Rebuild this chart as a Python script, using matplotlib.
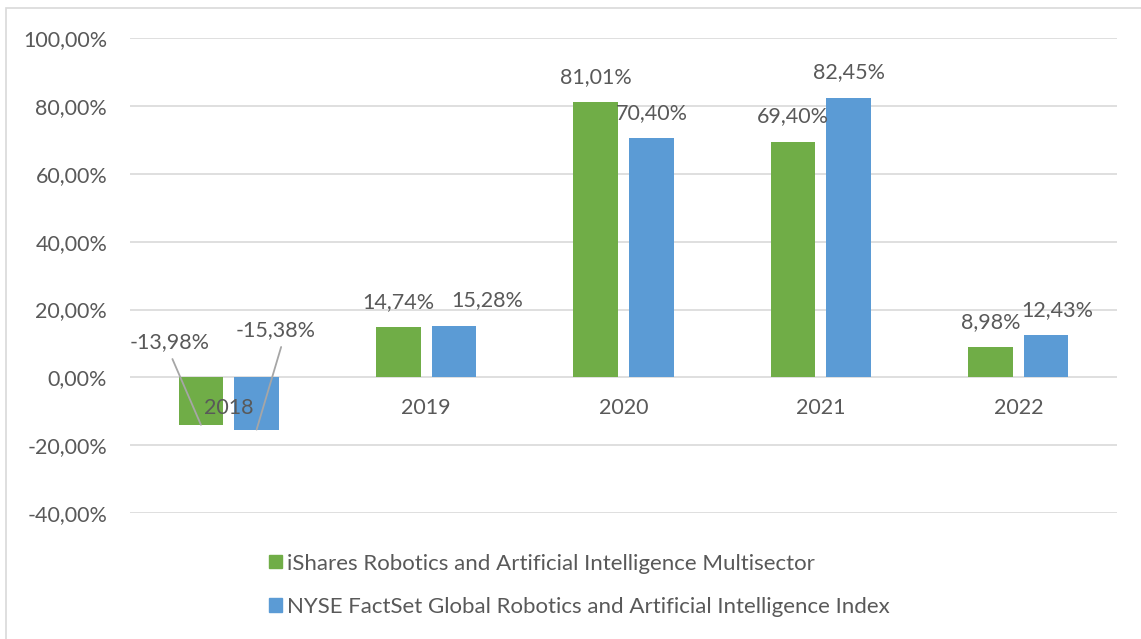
import numpy as np
import matplotlib.pyplot as plt
from matplotlib.patches import Rectangle, Patch

plt.rcParams['font.family'] = ['Lato', 'DejaVu Sans']

years = ['2018', '2019', '2020', '2021', '2022']
ishares = [-13.98, 14.74, 81.01, 69.40, 8.98]
nyse = [-15.38, 15.28, 70.40, 82.45, 12.43]
series_names = ['iShares Robotics and Artificial Intelligence Multisector',
                'NYSE FactSet Global Robotics and Artificial Intelligence Index']
yticks = [-40, -20, 0, 20, 40, 60, 80, 100]

green = '#70AD47'
blue = '#5B9BD5'
txt = '#595959'
grid = '#D9D9D9'
fs = 15.5


def pct(v):
    return f'{v:.2f}'.replace('.', ',') + '%'


fig = plt.figure(figsize=(11.41, 6.39), dpi=100)
fig.patches.append(Rectangle((0.005, -0.01), 1.0, 0.997, transform=fig.transFigure,
                             fill=False, edgecolor=grid, linewidth=1.2))
ax = fig.add_axes([0.114, 0.197, 0.865, 0.7435])

x = np.arange(len(years))
w = 0.226
off = 0.141
ax.bar(x - off, ishares, w, color=green, zorder=3)
ax.bar(x + off, nyse, w, color=blue, zorder=3)

ax.set_xlim(-0.5, len(years) - 0.5)
ax.set_ylim(-40, 100)
ax.set_yticks(yticks)
ax.set_yticklabels([pct(v) for v in yticks])
ax.tick_params(axis='y', length=0, pad=16.5, labelsize=fs, labelcolor=txt)
ax.set_xticks([])
for s in ax.spines.values():
    s.set_visible(False)
for v in yticks:
    ax.axhline(v, color=grid, linewidth=1.2, zorder=1)

# category labels sit just under the zero line
for i, yr in enumerate(years):
    ax.annotate(yr, (i, 0), xytext=(0, -22), textcoords='offset points',
                ha='center', va='center', fontsize=fs, color=txt, zorder=4)

# data labels (a couple nudged sideways like Excel does to avoid overlap)
nudge = {(1, 1): 24, (4, 1): 8}
for i in range(1, len(years)):
    for k, (vals, d) in enumerate(((ishares, -off), (nyse, off))):
        ax.annotate(pct(vals[i]), (i + d, vals[i]),
                    xytext=(nudge.get((i, k), 0), 11),
                    textcoords='offset points', ha='center', va='bottom',
                    fontsize=fs, color=txt, zorder=4)

# 2018 labels pulled up with leader lines
ax.annotate(pct(ishares[0]), (0 - off, ishares[0]), xytext=(-0.30, 10.3),
            textcoords='data', ha='center', va='center', fontsize=fs,
            color=txt, zorder=4,
            arrowprops=dict(arrowstyle='-', color='#A6A6A6', lw=1.3,
                            relpos=(0.5, 0), shrinkA=3, shrinkB=0))
ax.annotate(pct(nyse[0]), (0 + off, nyse[0]), xytext=(0.235, 13.9),
            textcoords='data', ha='center', va='center', fontsize=fs,
            color=txt, zorder=4,
            arrowprops=dict(arrowstyle='-', color='#A6A6A6', lw=1.3,
                            relpos=(0.6, 0), shrinkA=3, shrinkB=0))

handles = [Patch(color=green), Patch(color=blue)]
fig.legend(handles, series_names, loc='center', bbox_to_anchor=(0.508, 0.084),
           frameon=False, fontsize=16, labelcolor=txt, labelspacing=1.05,
           handlelength=0.55, handleheight=0.55, handletextpad=0.25)

fig.savefig('out.png', dpi=100)
